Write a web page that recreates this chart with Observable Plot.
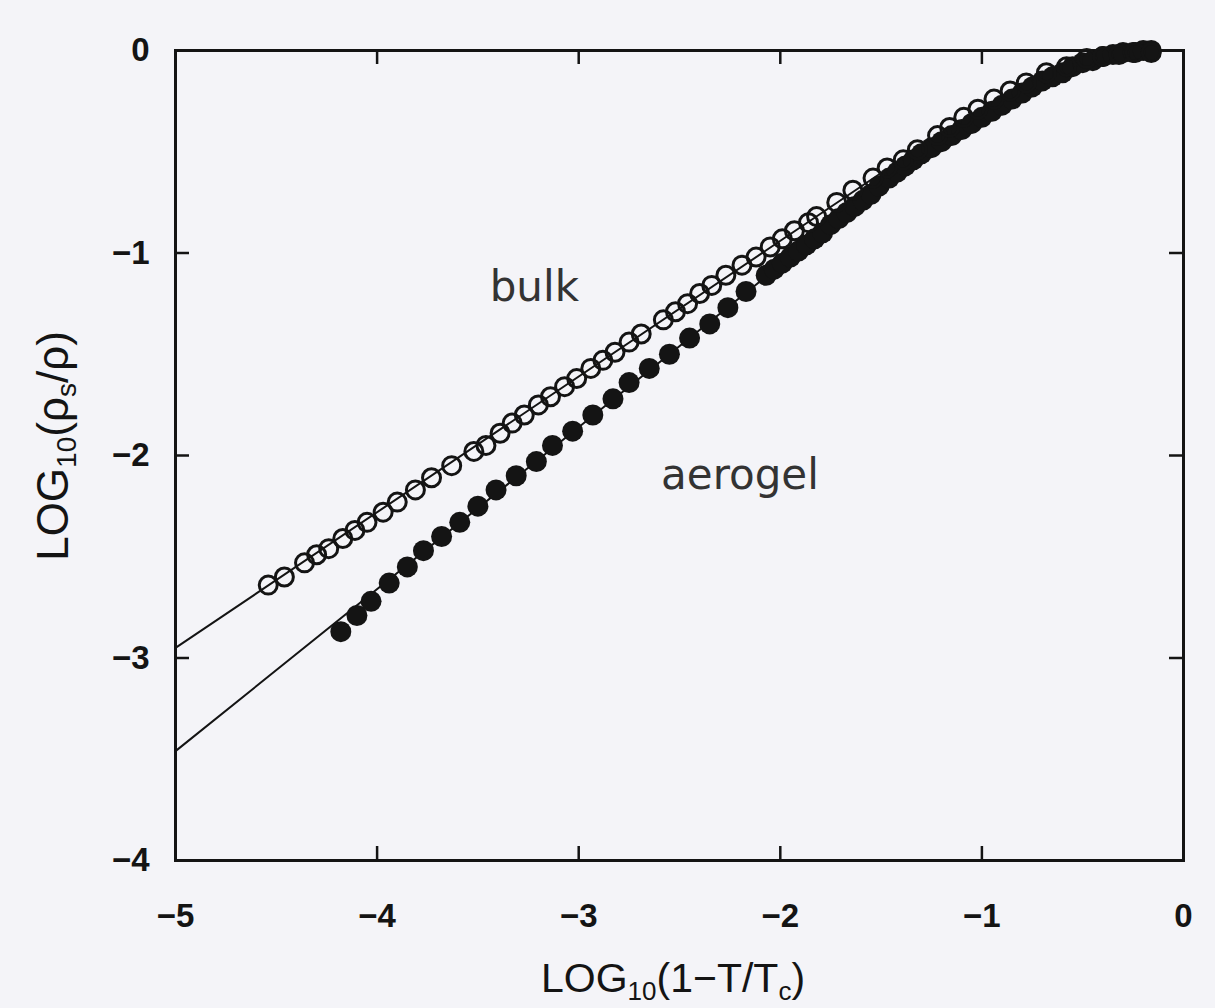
<!DOCTYPE html>
<html>
<head>
<meta charset="utf-8">
<script src="https://cdn.jsdelivr.net/npm/d3@7"></script>
<script src="https://cdn.jsdelivr.net/npm/@observablehq/plot@0.6"></script>
<style>
  html, body { margin: 0; padding: 0; background: #f4f4f8; }
  #chart { width: 1215px; height: 1008px; }
</style>
</head>
<body>
<div id="chart"></div>
<script>
// ---- data ----
const xTicks = [-5, -4, -3, -2, -1, 0];
const yTicks = [0, -1, -2, -3, -4];

// bulk (open circles)
const bulkX = [-4.54, -4.46, -4.36, -4.30, -4.24, -4.17, -4.11, -4.05, -3.97, -3.90,
  -3.81, -3.73, -3.63, -3.52, -3.46, -3.39, -3.33, -3.27, -3.20, -3.14,
  -3.07, -3.01, -2.94, -2.88, -2.82, -2.75, -2.69, -2.58, -2.52, -2.46,
  -2.40, -2.34, -2.27, -2.19, -2.12, -2.05, -1.99, -1.93, -1.86, -1.82,
  -1.72, -1.64, -1.54, -1.47, -1.39, -1.32, -1.22, -1.16, -1.09, -1.02,
  -0.94, -0.86, -0.78, -0.68, -0.58, -0.48, -0.40, -0.32, -0.24, -0.16];
const bulkY = [-2.64, -2.60, -2.53, -2.49, -2.46, -2.41, -2.37, -2.33, -2.28, -2.23,
  -2.17, -2.11, -2.05, -1.98, -1.95, -1.89, -1.84, -1.80, -1.75, -1.71,
  -1.66, -1.62, -1.57, -1.53, -1.49, -1.44, -1.40, -1.33, -1.29, -1.25,
  -1.20, -1.16, -1.11, -1.06, -1.02, -0.97, -0.93, -0.89, -0.85, -0.82,
  -0.75, -0.69, -0.63, -0.58, -0.54, -0.49, -0.42, -0.38, -0.33, -0.29,
  -0.24, -0.20, -0.16, -0.11, -0.08, -0.04, -0.03, -0.02, -0.01, -0.01];

// aerogel (filled circles)
const aeroX = [-4.18, -4.10, -4.03, -3.94, -3.85, -3.77, -3.68, -3.59, -3.50, -3.41,
  -3.31, -3.21, -3.13, -3.03, -2.93, -2.83, -2.75, -2.65, -2.55, -2.45,
  -2.35, -2.26, -2.17, -2.07, -2.03, -1.99, -1.95, -1.91, -1.87, -1.83,
  -1.79, -1.75, -1.71, -1.67, -1.63, -1.59, -1.55, -1.51, -1.46, -1.42,
  -1.38, -1.34, -1.30, -1.25, -1.20, -1.15, -1.10, -1.05, -1.00, -0.95,
  -0.90, -0.85, -0.80, -0.75, -0.70, -0.65, -0.60, -0.55, -0.50, -0.45,
  -0.40, -0.35, -0.30, -0.25, -0.20, -0.16];
const aeroY = [-2.87, -2.79, -2.72, -2.63, -2.55, -2.47, -2.40, -2.33, -2.25, -2.17,
  -2.10, -2.03, -1.95, -1.88, -1.80, -1.72, -1.64, -1.57, -1.50, -1.42,
  -1.35, -1.27, -1.19, -1.11, -1.08, -1.05, -1.02, -0.99, -0.96, -0.93,
  -0.90, -0.86, -0.83, -0.80, -0.77, -0.74, -0.71, -0.67, -0.63, -0.60,
  -0.57, -0.54, -0.51, -0.48, -0.45, -0.42, -0.39, -0.36, -0.33, -0.30,
  -0.27, -0.24, -0.21, -0.18, -0.15, -0.13, -0.11, -0.08, -0.06, -0.05,
  -0.03, -0.02, -0.01, -0.01, 0.00, 0.00];

// power-law fit lines
const fitX = [-5, -1.5];
const bulkFitY = [-2.95, -0.605];
const aeroFitY = [-3.46, -0.66];

// in-plot labels
const labelText = ["bulk", "aerogel"];
const labelX = [-3.22, -2.20];
const labelY = [-1.17, -2.10];

// ---- build ----
const bulk = bulkX.map((x, i) => ({x, y: bulkY[i]}));
const aero = aeroX.map((x, i) => ({x, y: aeroY[i]}));
const fits = [
  ...fitX.map((x, i) => ({x, y: bulkFitY[i], s: "bulk"})),
  ...fitX.map((x, i) => ({x, y: aeroFitY[i], s: "aerogel"}))
];
const labels = labelText.map((t, i) => ({t, x: labelX[i], y: labelY[i]}));

const W = 1215, H = 1008;
const mL = 175, mR = 32, mT = 50, mB = 148;
const innerW = W - mL - mR, innerH = H - mT - mB;
const tickLen = 14;
const ink = "#141414";
const fmt = d => d === 0 ? "0" : "\u2212" + Math.abs(d);

const chart = Plot.plot({
  width: W, height: H,
  marginLeft: mL, marginRight: mR, marginTop: mT, marginBottom: mB,
  x: {domain: [-5, 0], axis: null},
  y: {domain: [-4, 0], axis: null},
  style: {background: "transparent", fontFamily: "'Liberation Sans', Arial, sans-serif", color: ink},
  marks: [
    Plot.frame({stroke: ink, strokeWidth: 3}),
    Plot.tickX(xTicks.slice(1, -1), {x: d => d, insetTop: innerH - tickLen, stroke: ink, strokeWidth: 2.5}),
    Plot.tickX(xTicks.slice(1, -1), {x: d => d, insetBottom: innerH - tickLen, stroke: ink, strokeWidth: 2.5}),
    Plot.tickY(yTicks.slice(1, -1), {y: d => d, insetRight: innerW - tickLen, stroke: ink, strokeWidth: 2.5}),
    Plot.tickY(yTicks.slice(1, -1), {y: d => d, insetLeft: innerW - tickLen, stroke: ink, strokeWidth: 2.5}),
    Plot.text(xTicks, {x: d => d, frameAnchor: "bottom", dy: 66, text: fmt, fontSize: 33, fontWeight: "bold", fill: ink}),
    Plot.text(yTicks, {y: d => d, frameAnchor: "left", dx: -26, textAnchor: "end", text: fmt, fontSize: 33, fontWeight: "bold", fill: ink}),
    Plot.line(fits, {x: "x", y: "y", z: "s", stroke: ink, strokeWidth: 2}),
    Plot.dot(aero, {x: "x", y: "y", r: 10.5, fill: ink, stroke: "none"}),
    Plot.dot(bulk, {x: "x", y: "y", r: 9, fill: "none", stroke: ink, strokeWidth: 3}),
    Plot.text(labels, {x: "x", y: "y", text: "t", fontSize: 42, fill: "#333",
      fontFamily: "'DejaVu Sans', sans-serif"})
  ]
});

document.getElementById("chart").appendChild(chart);

// axis titles with subscripts
const svg = d3.select(chart);
const xl = svg.append("text")
  .attr("x", mL + innerW / 2 - 6).attr("y", H - 16)
  .attr("text-anchor", "middle")
  .attr("font-family", "'Liberation Sans Narrow', 'Liberation Sans', sans-serif")
  .attr("font-size", 41).attr("fill", ink);
xl.append("tspan").text("LOG");
xl.append("tspan").attr("font-size", 26).attr("dy", 8).text("10");
xl.append("tspan").attr("dy", -8).text("(1\u2212T/T");
xl.append("tspan").attr("font-size", 26).attr("dy", 8).text("c");
xl.append("tspan").attr("dy", -8).text(")");

const yl = svg.append("text")
  .attr("transform", `translate(68, 446) rotate(-90)`)
  .attr("text-anchor", "middle")
  .attr("font-family", "'Liberation Sans Narrow', 'Liberation Sans', sans-serif")
  .attr("font-size", 44).attr("fill", ink);
yl.append("tspan").text("LOG");
yl.append("tspan").attr("font-size", 28).attr("dy", 8).text("10");
yl.append("tspan").attr("dy", -8).text("(\u03C1");
yl.append("tspan").attr("font-size", 28).attr("dy", 8).text("s");
yl.append("tspan").attr("dy", -8).text("/\u03C1)");
</script>
</body>
</html>
